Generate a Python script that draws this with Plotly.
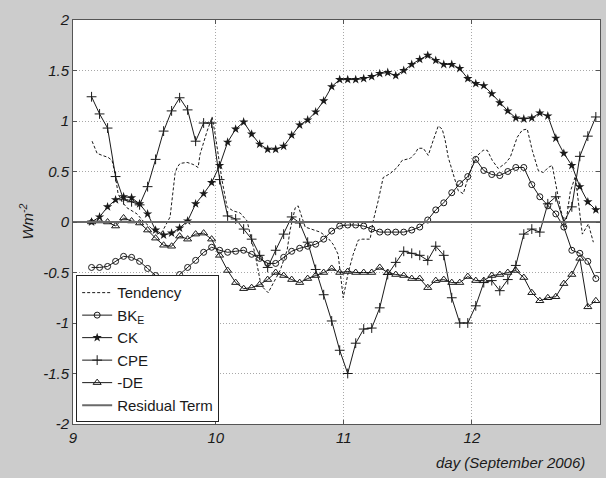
import plotly.graph_objects as go

# sample times (days of September 2006), 1.5-hourly
days = [round(9.03 + 0.0625 * i, 4) for i in range(64)]

bk_e = [-0.45, -0.45, -0.44, -0.39, -0.34, -0.35, -0.39, -0.46, -0.53, -0.59,
        -0.59, -0.52, -0.45, -0.38, -0.30, -0.25, -0.28, -0.30, -0.29, -0.28,
        -0.32, -0.36, -0.41, -0.41, -0.35, -0.29, -0.26, -0.24, -0.22, -0.17,
        -0.09, -0.04, -0.03, -0.03, -0.04, -0.07, -0.10, -0.10, -0.10, -0.10,
        -0.08, -0.05, 0.02, 0.12, 0.19, 0.29, 0.38, 0.45, 0.62, 0.51,
        0.47, 0.46, 0.50, 0.54, 0.54, 0.37, 0.25, 0.16, 0.08, -0.05,
        -0.28, -0.31, -0.39, -0.56]

ck = [0.00, 0.05, 0.15, 0.22, 0.25, 0.24, 0.18, 0.08, -0.08, -0.13,
      -0.11, -0.06, 0.01, 0.18, 0.28, 0.39, 0.56, 0.79, 0.92, 0.99,
      0.87, 0.77, 0.72, 0.72, 0.75, 0.86, 0.96, 1.01, 1.09, 1.20,
      1.34, 1.41, 1.41, 1.41, 1.42, 1.44, 1.47, 1.48, 1.45, 1.50,
      1.56, 1.61, 1.65, 1.60, 1.56, 1.56, 1.52, 1.42, 1.37, 1.35,
      1.27, 1.18, 1.10, 1.03, 1.02, 1.03, 1.08, 1.05, 0.83, 0.68,
      0.56, 0.35, 0.20, 0.12]

cpe = [1.24, 1.07, 0.93, 0.45, 0.22, 0.20, 0.17, 0.35, 0.62, 0.90,
       1.10, 1.23, 1.11, 0.80, 0.98, 0.98, 0.42, 0.06, 0.03, -0.07,
       -0.17, -0.33, -0.45, -0.28, -0.12, 0.05, -0.01, -0.20, -0.47, -0.72,
       -0.98, -1.27, -1.50, -1.20, -1.06, -1.05, -0.85, -0.52, -0.40, -0.29,
       -0.31, -0.33, -0.38, -0.24, -0.33, -0.75, -1.00, -1.00, -0.83, -0.60,
       -0.58, -0.68, -0.57, -0.43, -0.12, -0.07, -0.10, 0.18, 0.25, 0.00,
       0.15, 0.65, 0.85, 1.04]

minus_de = [0.00, 0.01, 0.00, -0.04, 0.04, 0.01, -0.01, -0.08, -0.16, -0.23,
            -0.24, -0.14, -0.17, -0.12, -0.11, -0.17, -0.33, -0.48, -0.60, -0.66,
            -0.65, -0.62, -0.57, -0.50, -0.53, -0.57, -0.60, -0.56, -0.53, -0.50,
            -0.46, -0.50, -0.49, -0.50, -0.50, -0.50, -0.45, -0.50, -0.52, -0.53,
            -0.56, -0.56, -0.65, -0.58, -0.57, -0.60, -0.60, -0.54, -0.58, -0.58,
            -0.53, -0.52, -0.50, -0.48, -0.55, -0.70, -0.78, -0.75, -0.74, -0.61,
            -0.52, -0.36, -0.84, -0.78]

tendency_days = [9.034, 9.073, 9.112, 9.159, 9.190, 9.213, 9.237, 9.268, 9.307, 9.385,
                 9.432, 9.487, 9.541, 9.580, 9.643, 9.682, 9.698, 9.721, 9.776, 9.823,
                 9.862, 9.877, 9.932, 9.971, 9.995, 10.018, 10.049, 10.088, 10.135, 10.190,
                 10.245, 10.268, 10.307, 10.346, 10.370, 10.409, 10.448, 10.502, 10.557, 10.580,
                 10.620, 10.643, 10.698, 10.752, 10.815, 10.870, 10.916, 10.955, 10.995, 11.034,
                 11.073, 11.112, 11.143, 11.205, 11.229, 11.268, 11.307, 11.362, 11.416, 11.455,
                 11.518, 11.557, 11.580, 11.620, 11.659, 11.698, 11.737, 11.768, 11.791, 11.815,
                 11.854, 11.893, 11.932, 11.971, 12.026, 12.088, 12.120, 12.159, 12.205, 12.260,
                 12.299, 12.354, 12.393, 12.432, 12.471, 12.518, 12.557, 12.596, 12.627, 12.666,
                 12.690, 12.729, 12.768, 12.807, 12.838, 12.862, 12.909, 12.948]
tendency = [0.80, 0.68, 0.66, 0.64, 0.61, 0.48, 0.28, 0.20, 0.14, 0.08,
            0.01, -0.05, -0.12, -0.10, 0.05, 0.48, 0.54, 0.58, 0.59, 0.57,
            0.54, 0.67, 0.90, 1.04, 0.87, 0.67, 0.41, 0.15, 0.11, 0.09,
            0.01, -0.12, -0.32, -0.58, -0.65, -0.70, -0.61, -0.48, -0.28, -0.08,
            0.14, 0.16, -0.05, -0.07, -0.10, -0.15, -0.22, -0.32, -0.75, -0.50,
            -0.32, -0.18, -0.17, -0.17, 0.01, 0.21, 0.44, 0.48, 0.54, 0.61,
            0.63, 0.68, 0.73, 0.73, 0.66, 0.81, 0.95, 0.92, 0.81, 0.64,
            0.48, 0.31, 0.28, 0.44, 0.64, 0.71, 0.71, 0.61, 0.53, 0.58,
            0.64, 0.84, 0.91, 0.92, 0.71, 0.51, 0.49, 0.54, 0.56, 0.28,
            0.14, -0.05, 0.30, 0.45, 0.10, -0.12, -0.02, -0.20]

residual_days = [8.885, 13.0]
residual = [0.0, 0.0]

x_tick_vals = [8.885, 10, 11, 12, 13]
x_tick_text = ["9", "10", "11", "12", "13"]
y_tick_vals = [-2, -1.5, -1, -0.5, 0, 0.5, 1, 1.5, 2]
y_tick_text = ["-2", "-1.5", "-1", "-0.5", "0", "0.5", "1", "1.5", "2"]

FONT = "Liberation Sans, Arial, sans-serif"
INK = "#1a1a1a"
FS = 15

fig = go.Figure()
fig.add_trace(go.Scatter(x=tendency_days, y=tendency, mode="lines", name="Tendency",
                         line=dict(color=INK, width=1, dash="3px,2px")))
fig.add_trace(go.Scatter(x=days, y=bk_e, mode="lines+markers", name="BK<sub>E</sub>",
                         line=dict(color=INK, width=1),
                         marker=dict(symbol="circle-open", size=6, color=INK, line=dict(width=1))))
fig.add_trace(go.Scatter(x=days, y=ck, mode="lines+markers", name="CK",
                         line=dict(color=INK, width=1),
                         marker=dict(symbol="star", size=7, color=INK, line=dict(width=0))))
fig.add_trace(go.Scatter(x=days, y=cpe, mode="lines+markers", name="CPE",
                         line=dict(color=INK, width=1),
                         marker=dict(symbol="cross-thin-open", size=7, color=INK, line=dict(width=1, color=INK))))
fig.add_trace(go.Scatter(x=days, y=minus_de, mode="lines+markers", name="-DE",
                         line=dict(color=INK, width=1),
                         marker=dict(symbol="triangle-up-open", size=7, color=INK, line=dict(width=1))))
fig.add_trace(go.Scatter(x=residual_days, y=residual, mode="lines", name="Residual Term",
                         line=dict(color="#6a6a6a", width=2), hoverinfo="skip"))

axis_common = dict(showline=True, linecolor="#555", linewidth=1, mirror="ticks",
                   ticks="inside", ticklen=4, tickcolor="#555",
                   showgrid=True, gridcolor="#a8a8a8", gridwidth=1, griddash="1px,2px",
                   zeroline=False, automargin=False,
                   tickfont=dict(family=FONT, size=FS, color=INK, style="italic"))

fig.update_layout(
    width=606, height=478,
    paper_bgcolor="#cccccc", plot_bgcolor="white",
    margin=dict(l=73, r=6, t=20, b=54),
    font=dict(family=FONT, color=INK),
    xaxis=dict(range=[8.885, 13.0], tickvals=x_tick_vals, ticktext=x_tick_text, **axis_common),
    yaxis=dict(range=[-2, 2], tickvals=y_tick_vals, ticktext=y_tick_text, **axis_common),
    legend=dict(x=0.006, y=0.004, xanchor="left", yanchor="bottom",
                bgcolor="white", bordercolor="#222", borderwidth=1,
                font=dict(family=FONT, size=FS, color=INK),
                itemwidth=30, tracegroupgap=0),
    showlegend=True,
    annotations=[
        dict(text="Wm<sup>-2</sup>", xref="paper", yref="paper", x=-0.09, y=0.5,
             xanchor="center", yanchor="middle",
             showarrow=False, textangle=-90,
             font=dict(family=FONT, size=FS, color=INK, style="italic")),
        dict(text="day (September 2006)", xref="paper", yref="paper", x=0.83, y=-0.095,
             xanchor="center", yanchor="middle", showarrow=False,
             font=dict(family=FONT, size=FS, color=INK, style="italic")),
    ],
)

fig.write_html("out.html")
